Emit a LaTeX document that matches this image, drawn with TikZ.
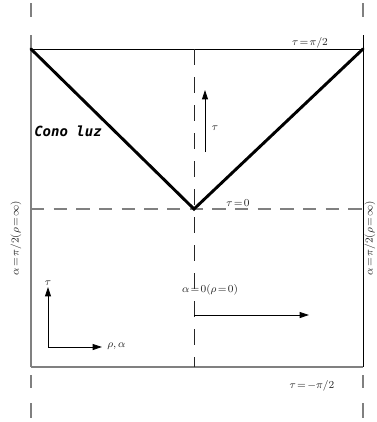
\documentclass[tikz,border=0pt]{standalone}
\usepackage{fontspec}
\newfontfamily\conofont{DejaVu Sans Mono}
\usetikzlibrary{arrows.meta}

\begin{document}
\begin{tikzpicture}[x=0.75pt,y=-0.75pt,
    lbl/.style={inner sep=0pt, font=\fontsize{8.5}{10}\selectfont, text=black!85},
    axisdash/.style={black!85, line width=0.7pt, dash pattern=on 12pt off 9pt},
    zerodash/.style={gray, line width=0.8pt, dash pattern=on 10pt off 7pt},
    cone/.style={line width=2.2pt, line cap=round},
    arr/.style={-{Triangle[length=7pt,width=4.5pt]}, line width=0.6pt}]
    \useasboundingbox (0,0) rectangle (376,422);
    % corners of the diagram
    \coordinate (tl) at (31,49);
    \coordinate (tr) at (363,49);
    \coordinate (bl) at (31,367);
    \coordinate (br) at (363,367);
    \coordinate (tc) at (194,49);
    \coordinate (bc) at (194,367);
    \coordinate (o) at (194,209);
    \coordinate (ol) at (31,209);
    \coordinate (or) at (363,209);
    % frame
    \draw[line width=0.6pt] (tl) -- (tr);
    \draw[gray, line width=0.8pt] (bl) -- (br);
    \draw[gray, line width=0.8pt] (31,35) -- (bl);
    \draw[line width=0.6pt] (363,35) -- (br);
    \foreach \x in {31,363} {
        \draw[gray, line width=0.8pt] (\x,3) -- (\x,17);
        \draw[gray, line width=0.8pt] (\x,375) -- (\x,388);
        \draw[gray, line width=0.8pt] (\x,403) -- (\x,418);
    }
    % axes through the origin
    \draw[axisdash] (tc) -- (bc);
    \draw[zerodash] (ol) -- (or);
    % light cone
    \draw[cone] (tl) -- (o) -- (tr);
    % arrows
    \coordinate (ta) at (205,152);
    \coordinate (tb) at (205,90);
    \draw[arr] (ta) -- (tb);
    \coordinate (ra) at (194,315);
    \coordinate (rb) at (309,315);
    \draw[arr] (ra) -- (rb);
    \coordinate (c0) at (48,347);
    \coordinate (cu) at (48,287);
    \coordinate (cr) at (102,347);
    \draw[arr] (c0) -- (cu);
    \draw[arr] (c0) -- (cr);
    % labels
    \node[lbl] (ltop) at (310,43) {$\tau\!=\!\pi/2$};
    \node[lbl] (lzero) at (238,203) {$\tau\!=\!0$};
    \node[lbl] (lbot) at (312,386) {$\tau\!=\!-\pi/2$};
    \node[lbl] (lorig) at (210,290) {$\alpha\!=\!0(\rho\!=\!0)$};
    \node[lbl] (ltau) at (215,128) {$\tau$};
    \node[lbl] (lctau) at (48,283) {$\tau$};
    \node[lbl, anchor=west] (lrho) at (107,346) {$\rho,\alpha$};
    \node[lbl, anchor=west, font=\conofont\bfseries\itshape\fontsize{10.5}{12}\selectfont, text=black] (lcono) at (34,131) {Cono luz};
    \node[lbl, rotate=90] (lleft) at (16,238) {$\alpha\!=\!\pi/2(\rho\!=\!\infty)$};
    \node[lbl, rotate=90] (lright) at (370,238) {$\alpha\!=\!\pi/2(\rho\!=\!\infty)$};
\end{tikzpicture}
\end{document}
